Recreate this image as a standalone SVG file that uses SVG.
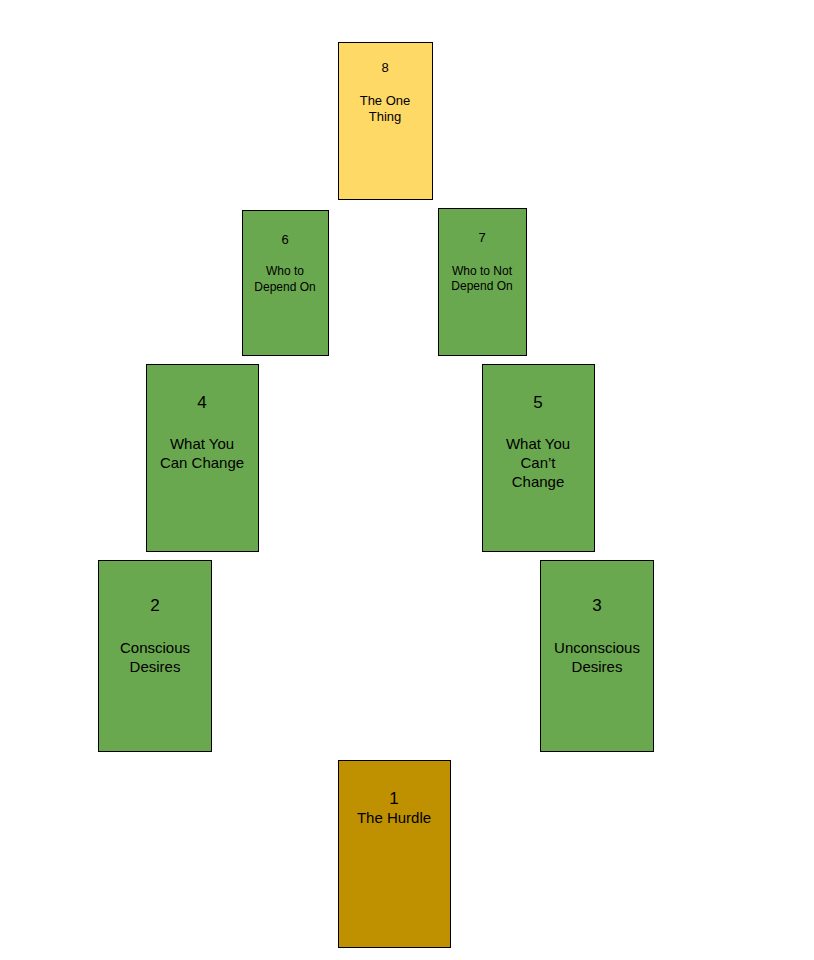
<svg xmlns="http://www.w3.org/2000/svg" width="814" height="960" viewBox="0 0 814 960">
<style>
rect{stroke:#000;stroke-width:1}
.g{fill:#6AA84F}
text{font-family:"Liberation Sans",Arial,sans-serif;fill:#000;text-anchor:middle}
.s{font-size:12px}.m{font-size:13px}.l{font-size:15px}.n{font-size:17px}
</style>
<rect width="814" height="960" fill="#fff" style="stroke:none"/>
<g id="connectors"/>
<g id="n8"><rect x="338.5" y="42.5" width="94" height="157" fill="#FFD966"/>
<text class="m" x="385" y="72">8</text><text class="m" x="385" y="105">The One</text><text class="m" x="385" y="121">Thing</text></g>
<g id="n6"><rect class="g" x="242.5" y="210.5" width="86" height="145"/>
<text class="m" x="285" y="244">6</text><text class="s" x="285" y="275">Who to</text><text class="s" x="285" y="291">Depend On</text></g>
<g id="n7"><rect class="g" x="438.5" y="208.5" width="88" height="147"/>
<text class="m" x="482" y="242">7</text><text class="s" x="482" y="275">Who to Not</text><text class="s" x="482" y="290">Depend On</text></g>
<g id="n4"><rect class="g" x="146.5" y="364.5" width="112" height="187"/>
<text class="n" x="202" y="408">4</text><text class="l" x="202" y="449">What You</text><text class="l" x="202" y="468">Can Change</text></g>
<g id="n5"><rect class="g" x="482.5" y="364.5" width="112" height="187"/>
<text class="n" x="538" y="408">5</text><text class="l" x="538" y="449">What You</text><text class="l" x="538" y="468">Can’t</text><text class="l" x="538" y="487">Change</text></g>
<g id="n2"><rect class="g" x="98.5" y="560.5" width="113" height="191"/>
<text class="n" x="155" y="611">2</text><text class="l" x="155" y="653">Conscious</text><text class="l" x="155" y="672">Desires</text></g>
<g id="n3"><rect class="g" x="540.5" y="560.5" width="113" height="191"/>
<text class="n" x="597" y="611">3</text><text class="l" x="597" y="653">Unconscious</text><text class="l" x="597" y="672">Desires</text></g>
<g id="n1"><rect x="338.5" y="760.5" width="112" height="187" fill="#BF9000"/>
<text class="n" x="394" y="804">1</text><text class="l" x="394" y="823">The Hurdle</text></g>
</svg>
